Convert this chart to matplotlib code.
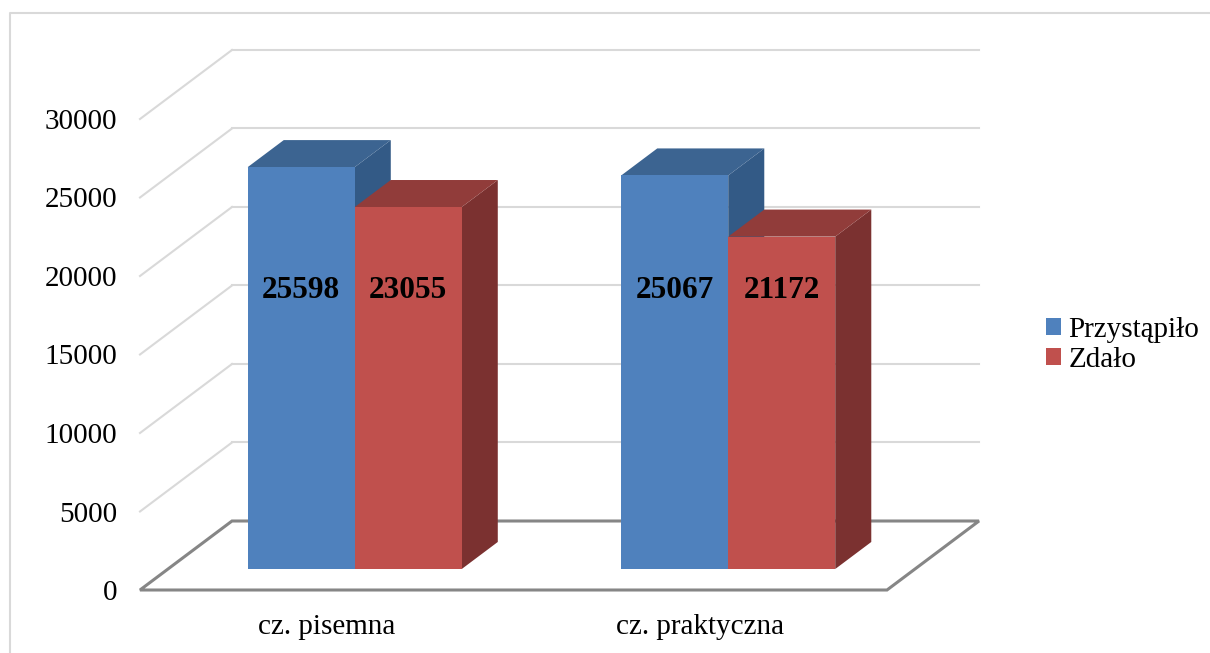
import numpy as np
import matplotlib
matplotlib.use("Agg")
import matplotlib.pyplot as plt
from matplotlib.patches import Polygon, Patch
from matplotlib.lines import Line2D

plt.rcParams['font.family'] = ['Liberation Serif', 'DejaVu Serif']

categories = ['cz. pisemna', 'cz. praktyczna']
przystapilo = [25598, 25067]
zdalo = [23055, 21172]
series_names = ['Przystąpiło', 'Zdało']
yticks = [0, 5000, 10000, 15000, 20000, 25000, 30000]

# colours: front, top, side
blue = ('#4f81bd', '#3c6491', '#335a86')
red = ('#c0504d', '#913c3a', '#7b3130')

# oblique "3d" depth, in data units
DX = 0.2463      # full depth in x
DY = 4395        # full depth in y
z0, z1 = 0.304, 0.696   # bar front / back depth
w = 0.2865       # bar width

fig = plt.figure(figsize=(12.1, 6.53), dpi=100)
ax = fig.add_axes([140 / 1210, 63 / 653, 747 / 1210, 471 / 653])
ax.set_xlim(0, 2)
ax.set_ylim(0, 30000)
for s in ax.spines.values():
    s.set_visible(False)

# chart border (top and left visible)
fig.add_artist(Line2D([10 / 1210, 10 / 1210, 1.0], [0, 1 - 13 / 653, 1 - 13 / 653],
                      transform=fig.transFigure, color='#d9d9d9', lw=1.5))

# walls gridlines
grid_c = '#d9d9d9'
for v in yticks[1:]:
    ax.plot([0, DX], [v, v + DY], color=grid_c, lw=1.5, clip_on=False, zorder=1)
    ax.plot([DX, 2 + DX], [v + DY, v + DY], color=grid_c, lw=1.5, clip_on=False, zorder=1)

# floor
floor = Polygon([(0, 0), (2, 0), (2 + DX, DY), (DX, DY)], closed=True,
                facecolor='none', edgecolor='#868686', lw=2.2, clip_on=False, zorder=2)
ax.add_patch(floor)


def bar3d(x, h, cols, label):
    fx = x + z0 * DX
    fy = z0 * DY
    ddx = (z1 - z0) * DX
    ddy = (z1 - z0) * DY
    side = Polygon([(fx + w, fy), (fx + w + ddx, fy + ddy), (fx + w + ddx, fy + h + ddy), (fx + w, fy + h)],
                   closed=True, facecolor=cols[2], edgecolor='none', clip_on=False, zorder=3)
    top = Polygon([(fx, fy + h), (fx + ddx, fy + h + ddy), (fx + w + ddx, fy + h + ddy), (fx + w, fy + h)],
                  closed=True, facecolor=cols[1], edgecolor='none', clip_on=False, zorder=3)
    ax.add_patch(side)
    ax.add_patch(top)
    ax.bar(fx, h, width=w, bottom=fy, align='edge', color=cols[0], clip_on=False, zorder=3)
    ax.text(fx + w / 2, 19100, label, ha='center', va='center', fontsize=22.5,
            fontweight='bold', zorder=5)


for i in range(len(categories)):
    c = i + 0.5
    bar3d(c - w, przystapilo[i], blue, str(przystapilo[i]))
    bar3d(c, zdalo[i], red, str(zdalo[i]))

ax.set_yticks(yticks)
ax.set_yticklabels([str(v) for v in yticks], fontsize=21)
ax.set_xticks([i + 0.5 for i in range(len(categories))])
ax.set_xticklabels(categories, fontsize=21)
ax.tick_params(axis='y', length=0, pad=16.5)
ax.tick_params(axis='x', length=0, pad=17)

handles = [Patch(facecolor=blue[0]), Patch(facecolor=red[0])]
fig.legend(handles, series_names, loc='center left', bbox_to_anchor=(1046 / 1210, 1 - 345 / 653),
           frameon=False, fontsize=21, handlelength=0.52, handleheight=0.52,
           handletextpad=0.25, labelspacing=0.15, borderpad=0, borderaxespad=0)

fig.savefig('out.png', dpi=100)
